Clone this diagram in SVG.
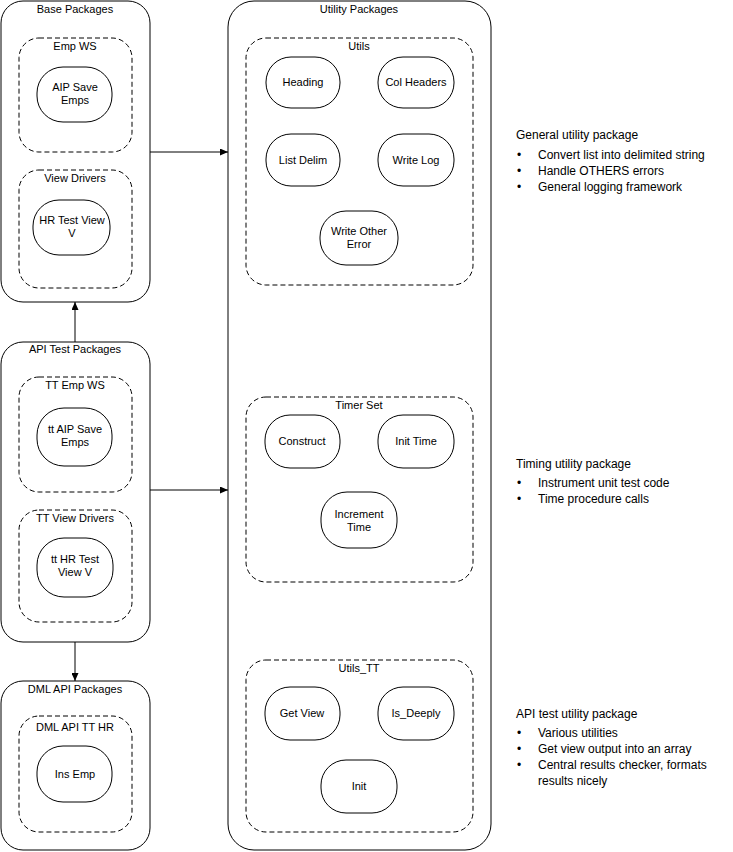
<svg xmlns="http://www.w3.org/2000/svg" width="733" height="852" viewBox="0 0 733 852">
<style>
text{font-family:"Liberation Sans",Arial,sans-serif;font-size:11px;fill:#000}
.c{text-anchor:middle}
.pkg{fill:#fff;stroke:#000;stroke-width:1}
.dash{fill:none;stroke:#000;stroke-dasharray:5,3}
.pill{fill:#fff;stroke:#000}
.ln{stroke:#000;fill:none}
.n{font-size:12px}
</style>
<defs><marker id="a" markerWidth="8" markerHeight="7" refX="8" refY="3.5" orient="auto" markerUnits="userSpaceOnUse"><path d="M0,0L8,3.5L0,7z"/></marker></defs>
<rect width="733" height="852" fill="#fff"/>
<g id="base"><rect class="pkg" x="1" y="1" width="149" height="301" rx="22"/><text class="c" x="75" y="13">Base Packages</text>
<rect class="dash" x="19" y="38" width="113" height="114" rx="20"/><text class="c" x="75" y="50">Emp WS</text>
<rect class="pill" x="37" y="67" width="75" height="55" rx="26"/><text class="c" x="75" y="91">AIP Save</text><text class="c" x="75" y="104">Emps</text>
<rect class="dash" x="19" y="170" width="113" height="118" rx="20"/><text class="c" x="75" y="182">View Drivers</text>
<rect class="pill" x="33" y="200" width="77" height="55" rx="26"/><text class="c" x="72" y="224">HR Test View</text><text class="c" x="72" y="237">V</text></g>
<g id="api"><rect class="pkg" x="1" y="342" width="149" height="300" rx="22"/><text class="c" x="75" y="353">API Test Packages</text>
<rect class="dash" x="19" y="377" width="113" height="115" rx="20"/><text class="c" x="75" y="389">TT Emp WS</text>
<rect class="pill" x="37" y="408" width="75" height="58" rx="27"/><text class="c" x="75" y="433">tt AIP Save</text><text class="c" x="75" y="446">Emps</text>
<rect class="dash" x="19" y="510" width="113" height="112" rx="20"/><text class="c" x="75" y="522">TT View Drivers</text>
<rect class="pill" x="37" y="538" width="76" height="59" rx="27"/><text class="c" x="75" y="563">tt HR Test</text><text class="c" x="75" y="576">View V</text></g>
<g id="dml"><rect class="pkg" x="1" y="681" width="149" height="169" rx="22"/><text class="c" x="75" y="693">DML API Packages</text>
<rect class="dash" x="19" y="716" width="113" height="116" rx="20"/><text class="c" x="75" y="731">DML API TT HR</text>
<rect class="pill" x="37" y="746" width="75" height="56" rx="26"/><text class="c" x="75" y="778">Ins Emp</text></g>
<g id="util"><rect class="pkg" x="228" y="1" width="263" height="849" rx="26"/><text class="c" x="359" y="13">Utility Packages</text>
<rect class="dash" x="246" y="38" width="227" height="247" rx="20"/><text class="c" x="359" y="50">Utils</text>
<rect class="pill" x="266" y="57" width="74" height="51" rx="25"/><text class="c" x="303" y="86">Heading</text>
<rect class="pill" x="378" y="57" width="76" height="51" rx="25"/><text class="c" x="416" y="86">Col Headers</text>
<rect class="pill" x="266" y="134" width="74" height="52" rx="25"/><text class="c" x="303" y="164">List Delim</text>
<rect class="pill" x="378" y="134" width="76" height="52" rx="25"/><text class="c" x="416" y="164">Write Log</text>
<rect class="pill" x="320" y="211" width="78" height="54" rx="26"/><text class="c" x="359" y="235">Write Other</text><text class="c" x="359" y="248">Error</text>
<rect class="dash" x="246" y="397" width="227" height="185" rx="20"/><text class="c" x="359" y="409">Timer Set</text>
<rect class="pill" x="265" y="415" width="75" height="53" rx="25"/><text class="c" x="302" y="445">Construct</text>
<rect class="pill" x="378" y="415" width="76" height="53" rx="25"/><text class="c" x="416" y="445">Init Time</text>
<rect class="pill" x="321" y="492" width="76" height="56" rx="26"/><text class="c" x="359" y="518">Increment</text><text class="c" x="359" y="531">Time</text>
<rect class="dash" x="246" y="660" width="227" height="172" rx="20"/><text class="c" x="359" y="672">Utils_TT</text>
<rect class="pill" x="265" y="687" width="75" height="53" rx="25"/><text class="c" x="302" y="717">Get View</text>
<rect class="pill" x="378" y="687" width="76" height="53" rx="25"/><text class="c" x="416" y="717">Is_Deeply</text>
<rect class="pill" x="321" y="760" width="76" height="53" rx="25"/><text class="c" x="359" y="790">Init</text></g>
<g id="connectors">
<line class="ln" x1="150" y1="152" x2="228" y2="152" marker-end="url(#a)"/>
<line class="ln" x1="150" y1="490" x2="228" y2="490" marker-end="url(#a)"/>
<line class="ln" x1="75" y1="342" x2="75" y2="302" marker-end="url(#a)"/>
<line class="ln" x1="75" y1="642" x2="75" y2="681" marker-end="url(#a)"/>
</g>
<g id="notes">
<text class="n" x="516" y="139">General utility package</text>
<text class="n" x="517" y="159">•</text><text class="n" x="538" y="159">Convert list into delimited string</text>
<text class="n" x="517" y="175">•</text><text class="n" x="538" y="175">Handle OTHERS errors</text>
<text class="n" x="517" y="191">•</text><text class="n" x="538" y="191">General logging framework</text>
<text class="n" x="516" y="468">Timing utility package</text>
<text class="n" x="517" y="487">•</text><text class="n" x="538" y="487">Instrument unit test code</text>
<text class="n" x="517" y="503">•</text><text class="n" x="538" y="503">Time procedure calls</text>
<text class="n" x="516" y="718">API test utility package</text>
<text class="n" x="517" y="737">•</text><text class="n" x="538" y="737">Various utilities</text>
<text class="n" x="517" y="753">•</text><text class="n" x="538" y="753">Get view output into an array</text>
<text class="n" x="517" y="769">•</text><text class="n" x="538" y="769">Central results checker, formats</text>
<text class="n" x="538" y="785">results nicely</text>
</g>
</svg>
